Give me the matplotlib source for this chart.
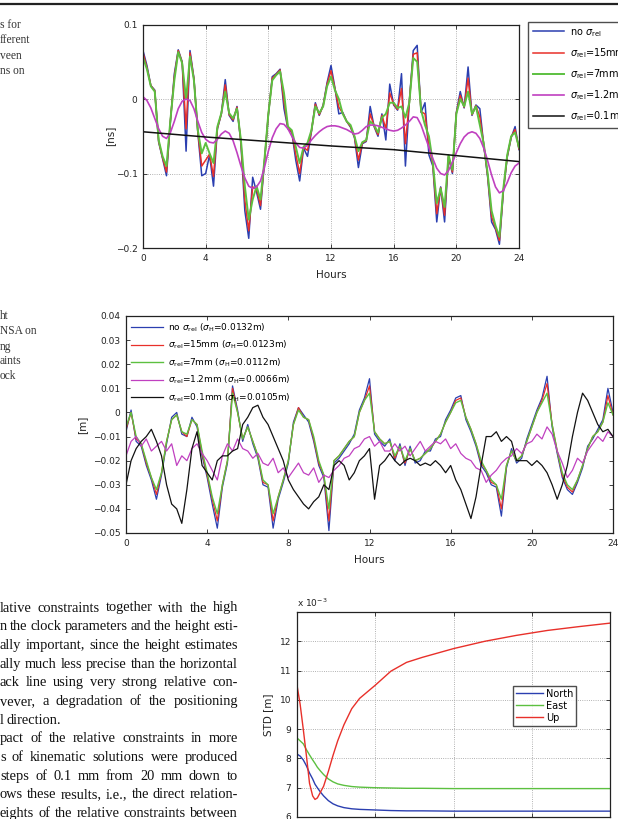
import numpy as np
import matplotlib
matplotlib.use("Agg")
import matplotlib.pyplot as plt
from matplotlib.lines import Line2D

plt.rcParams['font.family'] = ['DejaVu Sans']
plt.rcParams['mathtext.fontset'] = 'dejavusans'

# ---------------- data ----------------
# top panel: clock estimates [ns], every 15 min
hours_q = np.arange(0, 24.01, 0.25)

clk_none = [0.065, 0.045, 0.018, 0.012, -0.058, -0.080, -0.103, -0.030, 0.034, 0.066,
            0.050, -0.070, 0.065, 0.028, -0.045, -0.103, -0.100, -0.075, -0.117, -0.040,
            -0.020, 0.026, -0.022, -0.030, -0.010, -0.060, -0.150, -0.187, -0.105, -0.125,
            -0.148, -0.085, -0.022, 0.030, 0.034, 0.040, -0.013, -0.040, -0.045, -0.082,
            -0.110, -0.066, -0.077, -0.044, -0.005, -0.022, -0.008, 0.022, 0.045, 0.015,
            -0.020, -0.018, -0.030, -0.038, -0.052, -0.092, -0.060, -0.057, -0.010, -0.037,
            -0.050, -0.020, -0.055, 0.020, -0.008, -0.015, 0.034, -0.090, -0.003, 0.065,
            0.072, -0.018, -0.005, -0.075, -0.090, -0.165, -0.118, -0.165, -0.078, -0.100,
            -0.018, 0.010, -0.012, 0.043, -0.022, -0.008, -0.013, -0.062, -0.105, -0.165,
            -0.175, -0.195, -0.125, -0.078, -0.052, -0.037, -0.068]
clk_15 = [0.062, 0.042, 0.018, 0.011, -0.057, -0.079, -0.098, -0.029, 0.030, 0.065,
          0.049, -0.040, 0.062, 0.027, -0.044, -0.090, -0.082, -0.074, -0.104, -0.039,
          -0.020, 0.019, -0.021, -0.028, -0.011, -0.058, -0.136, -0.177, -0.118, -0.121,
          -0.143, -0.084, -0.021, 0.028, 0.033, 0.039, -0.004, -0.039, -0.044, -0.074,
          -0.100, -0.065, -0.069, -0.043, -0.007, -0.021, -0.009, 0.020, 0.038, 0.014,
          -0.011, -0.019, -0.030, -0.037, -0.051, -0.082, -0.059, -0.056, -0.020, -0.036,
          -0.048, -0.022, -0.040, 0.008, -0.007, -0.014, 0.014, -0.060, -0.004, 0.060,
          0.062, -0.017, -0.020, -0.063, -0.088, -0.154, -0.119, -0.156, -0.077, -0.098,
          -0.019, 0.005, -0.011, 0.028, -0.021, -0.009, -0.024, -0.061, -0.103, -0.158,
          -0.173, -0.190, -0.123, -0.077, -0.051, -0.041, -0.067]
clk_7 = [0.056, 0.040, 0.017, 0.010, -0.055, -0.077, -0.090, -0.028, 0.025, 0.063,
         0.048, 0.000, 0.057, 0.025, -0.042, -0.073, -0.059, -0.073, -0.086, -0.037,
         -0.019, 0.010, -0.019, -0.026, -0.013, -0.055, -0.117, -0.162, -0.135, -0.117,
         -0.135, -0.082, -0.020, 0.025, 0.032, 0.037, 0.008, -0.037, -0.042, -0.064,
         -0.086, -0.064, -0.059, -0.042, -0.010, -0.019, -0.010, 0.017, 0.030, 0.012,
         0.000, -0.020, -0.030, -0.035, -0.050, -0.070, -0.058, -0.055, -0.030, -0.035,
         -0.045, -0.025, -0.020, -0.005, -0.005, -0.012, -0.010, -0.025, -0.005, 0.055,
         0.050, -0.015, -0.035, -0.050, -0.085, -0.140, -0.120, -0.145, -0.075, -0.095,
         -0.020, 0.000, -0.010, 0.010, -0.020, -0.010, -0.035, -0.060, -0.100, -0.150,
         -0.170, -0.185, -0.120, -0.075, -0.050, -0.045, -0.065]
clk_1_2 = [0.003, -0.002, -0.012, -0.026, -0.040, -0.050, -0.053, -0.045, -0.030, -0.013,
           -0.003, 0.000, -0.002, -0.013, -0.030, -0.045, -0.054, -0.058, -0.059, -0.054,
           -0.047, -0.043, -0.046, -0.056, -0.072, -0.090, -0.106, -0.117, -0.120, -0.118,
           -0.110, -0.092, -0.070, -0.052, -0.040, -0.033, -0.034, -0.040, -0.050, -0.059,
           -0.065, -0.066, -0.062, -0.055, -0.049, -0.044, -0.040, -0.037, -0.036, -0.036,
           -0.037, -0.039, -0.041, -0.044, -0.047, -0.046, -0.042, -0.037, -0.035, -0.035,
           -0.036, -0.038, -0.040, -0.042, -0.043, -0.042, -0.039, -0.035, -0.030, -0.024,
           -0.025, -0.035, -0.050, -0.065, -0.080, -0.093, -0.100, -0.102, -0.096, -0.085,
           -0.072, -0.060, -0.051, -0.046, -0.044, -0.046, -0.053, -0.066, -0.083, -0.102,
           -0.118, -0.126, -0.123, -0.112, -0.099, -0.090, -0.086]
clk_0_1_hours = [0, 4, 8, 12, 16, 20, 24]
clk_0_1 = [-0.044, -0.051, -0.057, -0.063, -0.068, -0.076, -0.084]

# middle panel: height estimates [m], every 15 min
h_none = [-0.008, 0.001, -0.012, -0.014, -0.022, -0.028, -0.036, -0.026, -0.013, -0.002,
          0.000, -0.009, -0.010, -0.002, -0.006, -0.018, -0.027, -0.038, -0.048, -0.031,
          -0.021, 0.011, 0.001, -0.012, -0.005, -0.013, -0.019, -0.030, -0.031, -0.048,
          -0.036, -0.029, -0.021, -0.004, 0.002, -0.001, -0.004, -0.012, -0.022, -0.027,
          -0.049, -0.021, -0.019, -0.016, -0.013, -0.009, 0.001, 0.006, 0.014, -0.009,
          -0.012, -0.014, -0.011, -0.020, -0.013, -0.022, -0.014, -0.021, -0.020, -0.016,
          -0.016, -0.011, -0.010, -0.003, 0.001, 0.006, 0.007, -0.003, -0.008, -0.014,
          -0.022, -0.025, -0.030, -0.031, -0.043, -0.023, -0.015, -0.021, -0.019, -0.011,
          -0.005, 0.001, 0.006, 0.015, -0.006, -0.017, -0.027, -0.032, -0.034, -0.029,
          -0.023, -0.014, -0.011, -0.007, -0.003, 0.010, 0.000]
h_15 = [-0.007, 0.000, -0.011, -0.013, -0.021, -0.027, -0.034, -0.025, -0.012, -0.003,
        -0.001, -0.008, -0.010, -0.003, -0.005, -0.017, -0.026, -0.036, -0.045, -0.030,
        -0.020, 0.010, 0.000, -0.011, -0.006, -0.012, -0.018, -0.029, -0.030, -0.045,
        -0.035, -0.028, -0.020, -0.005, 0.002, -0.002, -0.003, -0.011, -0.021, -0.026,
        -0.045, -0.020, -0.018, -0.015, -0.012, -0.010, 0.000, 0.005, 0.011, -0.008,
        -0.011, -0.013, -0.012, -0.019, -0.014, -0.021, -0.015, -0.020, -0.019, -0.017,
        -0.015, -0.012, -0.009, -0.004, 0.000, 0.005, 0.006, -0.002, -0.007, -0.013,
        -0.021, -0.024, -0.029, -0.030, -0.040, -0.022, -0.016, -0.020, -0.018, -0.012,
        -0.006, 0.000, 0.005, 0.012, -0.005, -0.016, -0.026, -0.031, -0.033, -0.028,
        -0.022, -0.015, -0.010, -0.008, -0.004, 0.007, -0.001]
h_7 = [-0.006, 0.000, -0.010, -0.013, -0.020, -0.027, -0.032, -0.025, -0.012, -0.003,
       -0.001, -0.008, -0.009, -0.003, -0.005, -0.016, -0.025, -0.035, -0.042, -0.030,
       -0.020, 0.008, 0.000, -0.011, -0.006, -0.012, -0.018, -0.028, -0.030, -0.042,
       -0.035, -0.028, -0.020, -0.005, 0.001, -0.002, -0.003, -0.010, -0.020, -0.026,
       -0.040, -0.020, -0.018, -0.015, -0.012, -0.010, 0.000, 0.005, 0.008, -0.008,
       -0.011, -0.013, -0.012, -0.018, -0.014, -0.020, -0.015, -0.020, -0.019, -0.017,
       -0.015, -0.012, -0.009, -0.004, 0.000, 0.004, 0.005, -0.002, -0.007, -0.013,
       -0.020, -0.024, -0.028, -0.030, -0.036, -0.022, -0.016, -0.020, -0.018, -0.012,
       -0.006, 0.000, 0.004, 0.008, -0.005, -0.016, -0.025, -0.030, -0.032, -0.028,
       -0.022, -0.015, -0.010, -0.008, -0.004, 0.004, -0.001]
h_1_2 = [-0.018, -0.012, -0.010, -0.014, -0.011, -0.016, -0.014, -0.012, -0.016, -0.013,
         -0.022, -0.018, -0.020, -0.015, -0.013, -0.017, -0.020, -0.024, -0.028, -0.018,
         -0.013, -0.016, -0.011, -0.015, -0.016, -0.019, -0.017, -0.021, -0.022, -0.019,
         -0.025, -0.023, -0.027, -0.024, -0.021, -0.025, -0.026, -0.023, -0.029, -0.026,
         -0.027, -0.024, -0.022, -0.019, -0.018, -0.015, -0.014, -0.011, -0.010, -0.014,
         -0.012, -0.016, -0.016, -0.013, -0.016, -0.014, -0.018, -0.015, -0.012, -0.016,
         -0.014, -0.012, -0.013, -0.011, -0.015, -0.013, -0.017, -0.019, -0.020, -0.023,
         -0.024, -0.029, -0.026, -0.024, -0.021, -0.019, -0.018, -0.015, -0.017, -0.013,
         -0.012, -0.009, -0.011, -0.006, -0.009, -0.016, -0.021, -0.027, -0.024, -0.019,
         -0.021, -0.016, -0.013, -0.010, -0.012, -0.008, -0.010]
h_0_1 = [-0.030, -0.020, -0.015, -0.012, -0.010, -0.007, -0.012, -0.018, -0.030, -0.038,
         -0.040, -0.046, -0.032, -0.015, -0.008, -0.022, -0.025, -0.028, -0.020, -0.018,
         -0.018, -0.016, -0.015, -0.005, -0.002, 0.002, 0.003, -0.002, -0.005, -0.010,
         -0.015, -0.020, -0.028, -0.032, -0.035, -0.038, -0.040, -0.037, -0.035, -0.030,
         -0.032, -0.022, -0.020, -0.022, -0.028, -0.025, -0.020, -0.018, -0.015, -0.036,
         -0.022, -0.020, -0.017, -0.020, -0.022, -0.020, -0.019, -0.020, -0.022, -0.021,
         -0.022, -0.020, -0.022, -0.025, -0.022, -0.028, -0.032, -0.038, -0.044, -0.035,
         -0.022, -0.010, -0.010, -0.008, -0.012, -0.010, -0.012, -0.020, -0.020, -0.020,
         -0.022, -0.020, -0.022, -0.025, -0.030, -0.036, -0.030, -0.022, -0.010, 0.000,
         0.008, 0.005, 0.000, -0.005, -0.008, -0.007, -0.010]

# bottom panel: STD of N/E/U versus relative constraint [1e-3 m]
sig_rel = [0, 0.2, 0.4, 0.6, 0.8, 1.0, 1.15, 1.3, 1.5, 1.7, 2.0, 2.3, 2.6, 3.0, 3.5,
           4.0, 5.0, 6.0, 7.0, 8.0, 10.0, 12.0, 14.0, 16.0, 18.0, 20.0]
std_north = [8.15, 8.08, 7.95, 7.75, 7.50, 7.30, 7.12, 7.00, 6.85, 6.72, 6.56, 6.45, 6.38,
             6.32, 6.28, 6.26, 6.24, 6.22, 6.21, 6.21, 6.20, 6.20, 6.20, 6.20, 6.20, 6.20]
std_east = [8.70, 8.60, 8.50, 8.30, 8.12, 7.95, 7.83, 7.70, 7.57, 7.45, 7.30, 7.20, 7.13,
            7.08, 7.04, 7.02, 7.00, 6.99, 6.98, 6.98, 6.97, 6.97, 6.97, 6.97, 6.97, 6.97]
std_up = [10.50, 9.85, 9.00, 8.10, 7.15, 6.72, 6.60, 6.65, 6.85, 7.05, 7.55, 8.10, 8.60,
          9.15, 9.70, 10.05, 10.50, 10.98, 11.28, 11.45, 11.75, 12.00, 12.20, 12.37, 12.50, 12.62]

top_labels = [r'no $\sigma_{\rm rel}$', r'$\sigma_{\rm rel}$=15mm', r'$\sigma_{\rm rel}$=7mm',
              r'$\sigma_{\rm rel}$=1.2mm', r'$\sigma_{\rm rel}$=0.1mm']
mid_labels = [r'no $\sigma_{\rm rel}$ ($\sigma_{\rm H}$=0.0132m)',
              r'$\sigma_{\rm rel}$=15mm ($\sigma_{\rm H}$=0.0123m)',
              r'$\sigma_{\rm rel}$=7mm ($\sigma_{\rm H}$=0.0112m)',
              r'$\sigma_{\rm rel}$=1.2mm ($\sigma_{\rm H}$=0.0066m)',
              r'$\sigma_{\rm rel}$=0.1mm ($\sigma_{\rm H}$=0.0105m)']

cap_top = ['s for', 'fferent', 'veen', 'ns on']
cap_mid = ['ht', 'NSA on', 'ng', 'aints', 'ock']
body = ['lative constraints together with the high',
        'n the clock parameters and the height esti-',
        'ally important, since the height estimates',
        'ally much less precise than the horizontal',
        'ack line using very strong relative con-',
        'vever, a degradation of the positioning',
        'l direction.',
        'pact of the relative constraints in more',
        's of kinematic solutions were produced',
        'steps of 0.1 mm from 20 mm down to',
        'ows these results, i.e., the direct relation-',
        'eights of the relative constraints between']

BLUE, RED, GREEN, MAG, BLK = '#2b3fb0', '#e8302a', '#5cc040', '#c040c0', '#111111'
W, H = 618, 819


def style(ax):
    ax.tick_params(direction='in', top=True, right=True, labelsize=6.5, length=3,
                   width=0.6, colors='#222222', pad=4)
    for s in ax.spines.values():
        s.set_linewidth(0.9)
        s.set_color('#222222')


fig = plt.figure(figsize=(W / 100, H / 100), dpi=100)
fig.add_artist(Line2D([0, 1], [1 - 4 / H, 1 - 4 / H], color='#222222', lw=1.6))

# ---- top panel
ax1 = fig.add_axes([143 / W, 1 - 248 / H, 376 / W, 223.5 / H])
ax1.plot(hours_q, clk_none, color=BLUE, lw=1.1, label=top_labels[0])
ax1.plot(hours_q, clk_15, color=RED, lw=1.1, label=top_labels[1])
ax1.plot(hours_q, clk_7, color=GREEN, lw=1.4, label=top_labels[2])
ax1.plot(hours_q, clk_1_2, color=MAG, lw=1.2, label=top_labels[3])
ax1.plot(clk_0_1_hours, clk_0_1, color=BLK, lw=1.1, label=top_labels[4])
ax1.set_xlim(0, 24)
ax1.set_ylim(-0.2, 0.1)
ax1.set_xticks([0, 4, 8, 12, 16, 20, 24])
ax1.set_yticks([-0.2, -0.1, 0, 0.1])
ax1.set_yticklabels(['\u22120.2', '\u22120.1', '0', '0.1'])
ax1.grid(True, ls=':', lw=0.6, color='#999999')
style(ax1)
ax1.set_xlabel('Hours', fontsize=7.5, color='#222222')
ax1.xaxis.set_label_coords(0.5, -0.1)
ax1.set_ylabel('[ns]', fontsize=7.5, color='#222222')
ax1.yaxis.set_label_coords(-0.075, 0.5)
fig.legend(handles=ax1.get_lines(), loc='upper left', bbox_to_anchor=(528 / W, 1 - 22 / H),
           fontsize=7, frameon=True, fancybox=False, edgecolor='#222222',
           handlelength=3.2, labelspacing=0.75, borderpad=0.5, handletextpad=0.6,
           borderaxespad=0)

# ---- middle panel
ax2 = fig.add_axes([126 / W, 1 - 533 / H, 487 / W, 217 / H])
ax2.plot(hours_q, h_none, color=BLUE, lw=0.9, label=mid_labels[0])
ax2.plot(hours_q, h_15, color=RED, lw=0.9, label=mid_labels[1])
ax2.plot(hours_q, h_7, color=GREEN, lw=1.0, label=mid_labels[2])
ax2.plot(hours_q, h_1_2, color=MAG, lw=0.9, label=mid_labels[3])
ax2.plot(hours_q, h_0_1, color=BLK, lw=0.9, label=mid_labels[4])
ax2.set_xlim(0, 24)
ax2.set_ylim(-0.05, 0.04)
ax2.set_xticks([0, 4, 8, 12, 16, 20, 24])
yt = [-0.05, -0.04, -0.03, -0.02, -0.01, 0, 0.01, 0.02, 0.03, 0.04]
ax2.set_yticks(yt)
ax2.set_yticklabels(['\u22120.05', '\u22120.04', '\u22120.03', '\u22120.02', '\u22120.01',
                     '0', '0.01', '0.02', '0.03', '0.04'])
style(ax2)
ax2.set_xlabel('Hours', fontsize=7.5, color='#222222')
ax2.xaxis.set_label_coords(0.5, -0.1)
ax2.set_ylabel('[m]', fontsize=7.5, color='#222222')
ax2.yaxis.set_label_coords(-0.08, 0.5)
ax2.legend(loc='upper left', fontsize=6.5, frameon=False, handlelength=3.5,
           labelspacing=0.55, borderaxespad=0.2, handletextpad=0.5)

# ---- bottom panel
ax3 = fig.add_axes([297 / W, 1 - 817 / H, 313 / W, 205 / H])
ax3.plot(sig_rel, std_north, color=BLUE, lw=1.0, label='North')
ax3.plot(sig_rel, std_east, color=GREEN, lw=1.0, label='East')
ax3.plot(sig_rel, std_up, color=RED, lw=1.0, label='Up')
ax3.set_xlim(0, 20)
ax3.set_ylim(6, 13)
ax3.set_xticks([0, 5, 10, 15, 20])
ax3.set_xticklabels([])   # below the page crop
ax3.set_yticks([6, 7, 8, 9, 10, 11, 12])
ax3.grid(True, ls=':', lw=0.6, color='#999999')
style(ax3)
ax3.set_ylabel('STD [m]', fontsize=7.5, color='#222222')
ax3.yaxis.set_label_coords(-0.077, 0.5)
ax3.text(0, 1.015, r'x 10$^{-3}$', transform=ax3.transAxes, fontsize=6.5,
         color='#222222', ha='left', va='bottom')
ax3.legend(loc='upper left', bbox_to_anchor=(0.69, 0.64), fontsize=7, frameon=True,
           fancybox=False, edgecolor='#222222', handlelength=2.8, labelspacing=0.2,
           borderpad=0.3, handletextpad=0.3, borderaxespad=0)

# ---- page text around the figures
serif = 'Liberation Serif'
for i, t in enumerate(cap_top):
    fig.text(0 / W, 1 - (25 + 15.4 * i) / H, t, family=serif, fontsize=8.3,
             ha='left', va='center', color='#333333')
for i, t in enumerate(cap_mid):
    fig.text(0 / W, 1 - (316.5 + 15 * i) / H, t, family=serif, fontsize=8.3,
             ha='left', va='center', color='#333333')

# justified body text: first word at the left page crop, last word ending at x=238
renderer = fig.canvas.get_renderer()
for i, t in enumerate(body):
    y = 1 - (608 + 18.7 * i) / H
    words = t.split(' ')
    arts = [fig.text(0, y, w, family=serif, fontsize=10.4, ha='left', va='center',
                     color='#111111') for w in words]
    widths = [a.get_window_extent(renderer).width for a in arts]
    if t.endswith('direction.'):
        gap = 2.7
    else:
        gap = max(2.0, (238 - sum(widths)) / (len(words) - 1))
    x = 0.0
    for a, wd in zip(arts, widths):
        a.set_x(x / W)
        x += wd + gap

fig.savefig('out.png', dpi=100)
